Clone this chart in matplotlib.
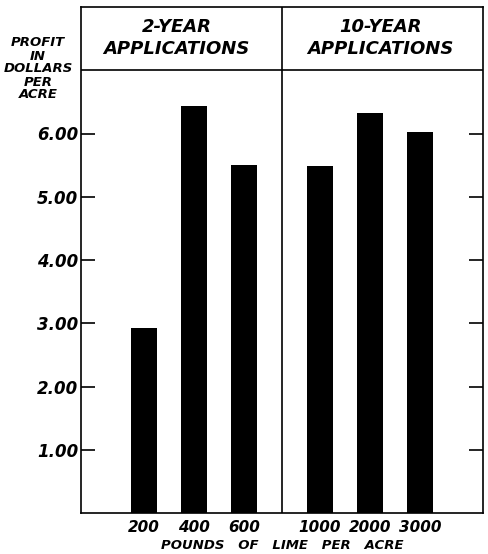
import numpy as np
import matplotlib.pyplot as plt

# Profit per acre from liming
lime_2yr = ['200', '400', '600']
profit_2yr = [2.92, 6.43, 5.50]
lime_10yr = ['1000', '2000', '3000']
profit_10yr = [5.48, 6.33, 6.03]
yticks = [1, 2, 3, 4, 5, 6]

pos_2yr = [1.25, 2.25, 3.25]
pos_10yr = [4.75, 5.75, 6.75]

plt.rcParams['font.family'] = 'DejaVu Sans'
fnt = dict(fontweight='bold', fontstyle='italic')

fig = plt.figure(figsize=(4.88, 5.54), dpi=100)
ax = fig.add_axes([81/488, 41/554, 402/488, 506/554])

ax.bar(pos_2yr, profit_2yr, width=0.52, color='black')
ax.bar(pos_10yr, profit_10yr, width=0.52, color='black')

ax.set_xlim(0, 8)
ax.set_ylim(0, 8)

# header band and divider
ax.axhline(7, color='black', lw=1.2)
ax.axvline(4, color='black', lw=1.2)
ax.text(1.9, 7.68, '2-YEAR', ha='center', va='center', fontsize=13, **fnt)
ax.text(1.9, 7.33, 'APPLICATIONS', ha='center', va='center', fontsize=13, **fnt)
ax.text(5.95, 7.68, '10-YEAR', ha='center', va='center', fontsize=13, **fnt)
ax.text(5.95, 7.33, 'APPLICATIONS', ha='center', va='center', fontsize=13, **fnt)

ax.set_yticks(yticks)
ax.set_yticklabels(['%.2f' % v for v in yticks], fontsize=12, **fnt)
ax.tick_params(axis='y', direction='in', length=10, width=1.2, pad=2,
               left=True, right=True)
ax.set_xticks(pos_2yr + pos_10yr)
ax.set_xticklabels(lime_2yr + lime_10yr, fontsize=11, **fnt)
ax.tick_params(axis='x', length=0, pad=5)

for s in ax.spines.values():
    s.set_linewidth(1.2)

fig.text(38/488, 1 - 69/554, 'PROFIT\nIN\nDOLLARS\nPER\nACRE', ha='center',
         va='center', fontsize=9.5, linespacing=1.0, **fnt)
ax.set_xlabel('POUNDS   OF   LIME   PER   ACRE', fontsize=9.5, labelpad=3, **fnt)

fig.savefig('out.png', dpi=100)
